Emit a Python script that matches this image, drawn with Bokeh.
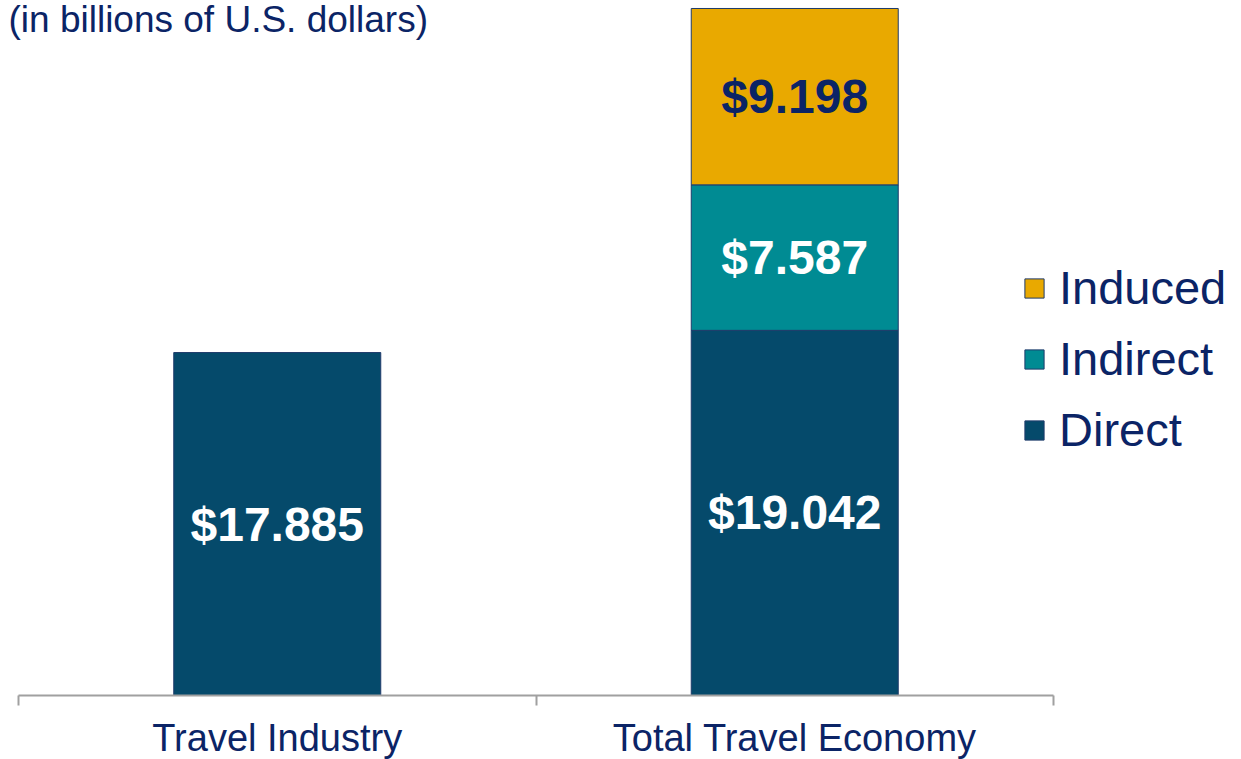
from bokeh.plotting import figure
from bokeh.models import (ColumnDataSource, Range1d, FixedTicker, Label, Legend, LegendItem, LinearAxis)
from bokeh.core.properties import value
from bokeh.embed import file_html
from bokeh.resources import INLINE

# ---- data ----
categories = ["Travel Industry", "Total Travel Economy"]
direct = [17.885, 19.042]
indirect = [0.0, 7.587]
induced = [0.0, 9.198]
direct_labels = ["$17.885", "$19.042"]
indirect_labels = ["", "$7.587"]
induced_labels = ["", "$9.198"]

FONT = "Liberation Sans"
NAVY = "#0b2466"
C_DIRECT = "#054a6b"
C_INDIRECT = "#008b93"
C_INDUCED = "#e9a900"
EDGE = "#1f3b6b"

xpos = [i + 0.5 for i in range(len(categories))]
bottom_ind = direct
top_ind = [d + i for d, i in zip(direct, indirect)]
top_indu = [t + u for t, u in zip(top_ind, induced)]

src = ColumnDataSource(dict(x=xpos, d0=[0.0] * len(direct), d1=direct))

p = figure(width=1241, height=759, output_backend="svg", toolbar_location=None,
           x_range=Range1d(-0.0348, 2.3633), y_range=Range1d(-3.338, 36.244),
           min_border_left=0, min_border_right=0, min_border_top=0, min_border_bottom=0)
p.outline_line_color = None
p.grid.visible = False
p.yaxis.visible = False
p.xaxis.visible = False

r_d = p.vbar(x="x", bottom="d0", top="d1", width=0.4, source=src,
             fill_color=C_DIRECT, line_color=EDGE, line_width=1)
src_i = ColumnDataSource(dict(x=xpos[1:], b=bottom_ind[1:], t=top_ind[1:]))
src_u = ColumnDataSource(dict(x=xpos[1:], b=top_ind[1:], t=top_indu[1:]))
r_i = p.vbar(x="x", bottom="b", top="t", width=0.4, source=src_i,
             fill_color=C_INDIRECT, line_color=EDGE, line_width=1)
r_u = p.vbar(x="x", bottom="b", top="t", width=0.4, source=src_u,
             fill_color=C_INDUCED, line_color=EDGE, line_width=1)

# value labels
lab_src = ColumnDataSource(dict(
    x=xpos + xpos[1:] + xpos[1:],
    y=[d / 2 for d in direct] + [(a + b) / 2 for a, b in zip(bottom_ind[1:], top_ind[1:])]
      + [(a + b) / 2 for a, b in zip(top_ind[1:], top_indu[1:])],
    t=direct_labels + indirect_labels[1:] + induced_labels[1:],
    c=["white", "white", "white", NAVY],
))
p.text(x="x", y="y", text="t", source=lab_src, text_color="c",
       text_font=value(FONT), text_font_style="bold", text_font_size="48px",
       text_align="center", text_baseline="middle")

# x axis (drawn at y = 0, line limited to the two categories)
ax = LinearAxis(ticker=FixedTicker(ticks=xpos, minor_ticks=[0, 1, 2]),
                major_label_overrides={x: c for x, c in zip(xpos, categories)},
                fixed_location=0, bounds=(0, 2))
ax.axis_line_color = "#a0a0a0"
ax.axis_line_width = 2
ax.major_tick_line_color = None
ax.major_tick_out = 10
ax.major_tick_in = 0
ax.minor_tick_line_color = "#a0a0a0"
ax.minor_tick_line_width = 2
ax.minor_tick_out = 10
ax.minor_tick_in = 0
ax.major_label_standoff = 12
ax.major_label_text_font = FONT
ax.major_label_text_font_size = "38px"
ax.major_label_text_color = NAVY
p.add_layout(ax, "below")

# legend
legend = Legend(items=[LegendItem(label="Induced", renderers=[r_u]),
                       LegendItem(label="Indirect", renderers=[r_i]),
                       LegendItem(label="Direct", renderers=[r_d])],
                location=(1022, 302), orientation="vertical")
legend.label_text_font = FONT
legend.label_text_font_size = "47px"
legend.label_text_color = NAVY
legend.glyph_width = 24
legend.glyph_height = 24
legend.spacing = 16
legend.padding = 0
legend.margin = 0
legend.label_standoff = 13
legend.border_line_color = None
legend.background_fill_alpha = 0
p.add_layout(legend)

# subtitle
p.add_layout(Label(x=8, y=740, x_units="screen", y_units="screen",
                   text="(in billions of U.S. dollars)", text_font=FONT,
                   text_font_size="37px", text_color=NAVY, text_baseline="alphabetic"))

open("out.html", "w").write(file_html(p, INLINE))
